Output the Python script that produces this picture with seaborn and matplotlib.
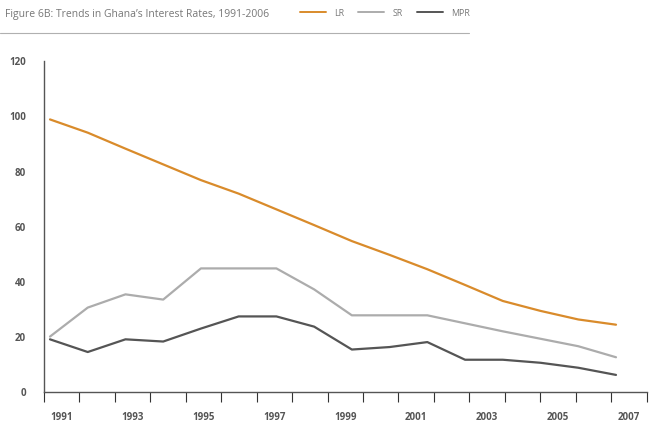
import matplotlib
matplotlib.use("Agg")
import matplotlib.pyplot as plt
import matplotlib.lines as mlines
import seaborn as sns
import pandas as pd

years = list(range(1991, 2007))
lr = [98.9, 94.1, 88.3, 82.6, 76.9, 72.0, 66.3, 60.6, 54.8, 49.8, 44.6, 38.9, 33.1, 29.5, 26.4, 24.5]
sr = [20.2, 30.7, 35.5, 33.6, 44.9, 44.9, 44.9, 37.3, 27.9, 27.9, 27.9, 25.0, 22.1, 19.4, 16.7, 12.7]
mpr = [19.2, 14.6, 19.2, 18.4, 23.1, 27.5, 27.5, 23.8, 15.5, 16.4, 18.2, 11.8, 11.8, 10.7, 8.9, 6.3]
series_names = ["LR", "SR", "MPR"]
category_labels = [str(y) for y in range(1991, 2008)]
yticks = [0, 20, 40, 60, 80, 100, 120]
title = "Figure 6B: Trends in Ghana\u2019s Interest Rates, 1991-2006"

colors = {"LR": "#d98b2b", "SR": "#acacac", "MPR": "#555555"}

df = pd.DataFrame({
    "year": years * 3,
    "value": lr + sr + mpr,
    "series": [s for s in series_names for _ in years],
})

sns.set_style("white")
plt.rcParams["font.family"] = ["Open Sans", "DejaVu Sans"]

fig = plt.figure(figsize=(6.58, 4.24), dpi=100)
W, H = 658, 424
left, right = 44 / W, 646.5 / W
bottom = (H - 392.3) / H
top = (H - 61.2) / H
ax = fig.add_axes([left, bottom, right - left, top - bottom])

sns.lineplot(data=df, x="year", y="value", hue="series", palette=colors,
             linewidth=1.6, ax=ax, legend=False)

# data axis: 1991 at px 50, 2006 at px 616
ppy = (616 - 50) / 15.0
ax.set_xlim(1991 - (50 - 44) / ppy, 1991 + (646.5 - 50) / ppy)
ax.set_ylim(0, 120)
ax.set_yticks(yticks)
ax.set_yticklabels([str(v) for v in yticks], fontsize=7, fontweight="bold", color="#555555")
ax.tick_params(axis="y", direction="out", length=7, width=0.8, color="#333333", pad=6)
ax.set_xticks([])
ax.set_xlabel("")
ax.set_ylabel("")
for s in ["top", "right"]:
    ax.spines[s].set_visible(False)
ax.spines["left"].set_color("#555555")
ax.spines["left"].set_linewidth(1.0)
ax.spines["bottom"].set_visible(False)

# category axis (Excel-like, ticks between categories)
ax2 = ax.twiny()
n = len(category_labels)
ax2.set_xlim(0, n)
ax2.xaxis.set_ticks_position("bottom")
ax2.set_xticks(range(0, n + 1))
ax2.set_xticklabels([""] * (n + 1))
ax2.set_xticks([i + 0.5 for i in range(n)], minor=True)
ax2.set_xticklabels([lab if i % 2 == 0 else "" for i, lab in enumerate(category_labels)],
                    minor=True, fontsize=7, fontweight="bold", color="#555555")
ax2.tick_params(axis="x", which="major", direction="out", length=7, width=0.8, color="#333333")
ax2.tick_params(axis="x", which="minor", length=0, pad=14)
for s in ["top", "right", "left"]:
    ax2.spines[s].set_visible(False)
ax2.spines["bottom"].set_color("#555555")
ax2.spines["bottom"].set_linewidth(1.0)

# title and header line
fig.text(5 / W, (H - 14) / H, title, fontsize=7.5, color="#777777", va="center", ha="left")
fig.add_artist(mlines.Line2D([0, 469 / W], [(H - 33) / H] * 2, color="#b0b0b0", linewidth=0.8))

handles = [mlines.Line2D([], [], color=colors[s], linewidth=1.4, label=s) for s in series_names]
leg = fig.legend(handles=handles, loc="center left", bbox_to_anchor=(292 / W, (H - 13) / H),
                 ncol=3, frameon=False, fontsize=6.3, handlelength=3.0, handletextpad=0.9,
                 columnspacing=1.6, labelcolor="#777777")

fig.savefig("out.png", dpi=100)
